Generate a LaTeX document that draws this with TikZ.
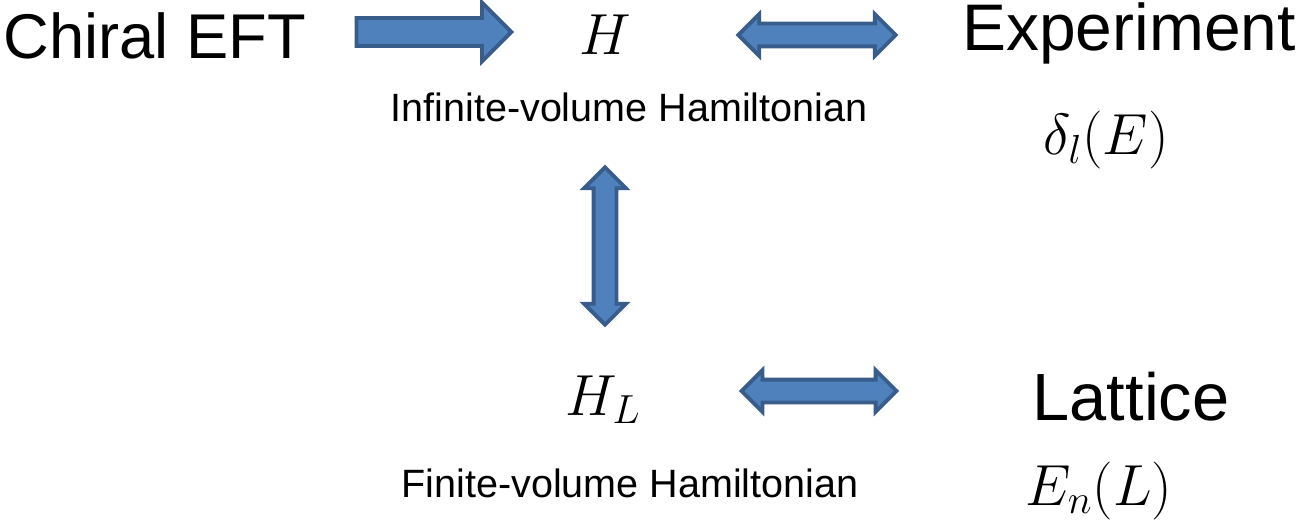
\RequirePackage{fix-cm}
\documentclass[tikz,border=0pt]{standalone}
\usepackage{fontspec}
\setsansfont{Liberation Sans}
\usetikzlibrary{shapes.arrows}
\definecolor{ArrowFill}{HTML}{4F81BD}
\definecolor{ArrowEdge}{HTML}{385D8A}

\begin{document}
\begin{tikzpicture}[x=0.02cm, y=-0.02cm,
    bigword/.style={font=\sffamily\fontsize{36}{42}\selectfont, anchor=base, inner sep=0pt},
    smallword/.style={font=\sffamily\fontsize{22.5}{27}\selectfont, anchor=base, inner sep=0pt},
    symb/.style={font=\fontsize{33}{39}\selectfont, anchor=base, inner sep=0pt},
    blockarrow/.style={single arrow, draw=ArrowEdge, fill=ArrowFill, line width=2.2pt,
      inner xsep=0pt, inner ysep=0.24cm, single arrow head extend=0.31cm},
    twoway/.style={double arrow, draw=ArrowEdge, fill=ArrowFill, line width=2.2pt,
      inner xsep=0pt, inner ysep=0.19cm, double arrow head extend=0.19cm}]
  \useasboundingbox (0,0) rectangle (1297,530);

  % Top row.
  \node[bigword] (chiral) at (155,59) {Chiral EFT};
  \node[symb] (ham) at (605,55) {$H$};
  \node[bigword, font=\sffamily\fontsize{37.5}{44}\selectfont] (expt) at (1129,51) {Experiment};
  \node[smallword] (hamtext) at (629,122) {Infinite-volume Hamiltonian};
  \node[symb] (phase) at (1106,155) {$\delta_l(E)$};

  % Bottom row.
  \node[symb] (hamL) at (603,415) {$H_L$};
  \node[bigword, font=\sffamily\fontsize{38}{44}\selectfont] (latt) at (1131,420) {Lattice};
  \node[smallword] (hamLtext) at (630,497) {Finite-volume Hamiltonian};
  \node[symb] (energy) at (1099,505) {$E_n(L)$};

  % Block arrows.
  \node[blockarrow, minimum height=3.1cm] (toham) at (427,32) {};
  \node[twoway, minimum height=3.15cm] (hamexpt) at (817,35) {};
  \node[twoway, minimum height=3.15cm, rotate=90] (hamhamL) at (605,246) {};
  \node[twoway, minimum height=3.1cm] (hamLlatt) at (819,391) {};
\end{tikzpicture}
\end{document}
